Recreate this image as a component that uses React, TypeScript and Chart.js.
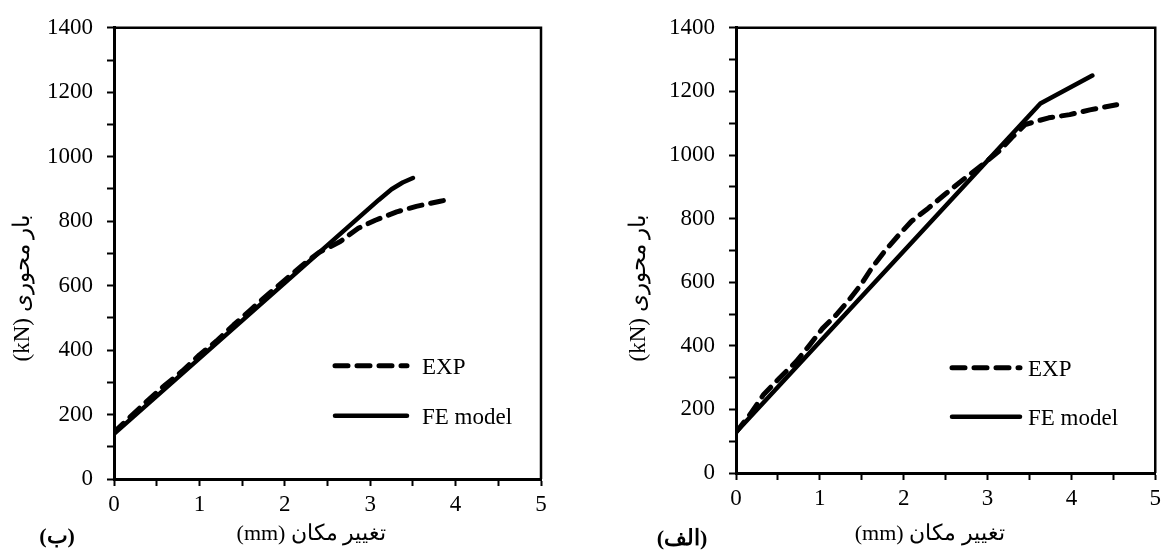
import React, { useEffect, useRef } from "react";
import { Chart, registerables } from "chart.js";

Chart.register(...registerables);

// ---------- data ----------
const seriesLabels = ["EXP", "FE model"];
const xAxisTitle = "تغییر مکان (mm)";
const yAxisTitle = "بار محوری (kN)";
const tagB = "(ب)";
const tagA = "(الف)";

// panel (ب)
const expB_x = [0, 0.2, 0.4, 0.6, 0.8, 1.0, 1.2, 1.4, 1.6, 1.8, 2.0, 2.2, 2.4, 2.65, 2.86, 3.06, 3.31, 3.54, 3.82, 3.88];
const expB_y = [145, 195, 245, 292, 335, 385, 428, 478, 525, 572, 617, 662, 703, 737, 778, 803, 829, 846, 862, 865];
const feB_x = [0, 3.1, 3.25, 3.38, 3.5];
const feB_y = [140, 866, 899, 920, 934];

// panel (الف)
const expA_x = [0, 0.17, 0.33, 0.52, 0.72, 0.88, 1.03, 1.19, 1.35, 1.5, 1.62, 1.78, 1.94, 2.09, 2.29, 2.5, 2.72, 2.94, 3.15, 3.29, 3.45, 3.73, 3.98, 4.22, 4.54];
const expA_y = [128, 185, 247, 299, 351, 403, 454, 496, 545, 596, 645, 700, 748, 791, 832, 878, 925, 970, 1015, 1055, 1096, 1117, 1127, 1142, 1158];
const feA_x = [0, 3.63, 4.25];
const feA_y = [128, 1162, 1250];

const xMin = 0, xMax = 5, xStep = 0.5;
const yMin = 0, yMax = 1400, yStep = 100;

// ---------- styling ----------
const FONT = "'Liberation Serif', 'Times New Roman', 'DejaVu Serif', serif";
const W = 583;
const H = 552;
const DASH = [13, 9];

type Geom = {
  yWidth: number;
  xHeight: number;
  padRight: number;
  legendX1: number;
  legendX2: number;
  legendY1: number;
  legendY2: number;
  legendTextX: number;
  yTitleDx: number;
  tagX: number;
  tagY: number;
};

const geomB: Geom = {
  yWidth: 114, xHeight: 73, padRight: 42,
  legendX1: 221, legendX2: 293, legendY1: 338, legendY2: 388, legendTextX: 308,
  yTitleDx: 91, tagX: 57, tagY: 537,
};
const geomA: Geom = {
  yWidth: 153, xHeight: 79, padRight: 6,
  legendX1: 216, legendX2: 284, legendY1: 340, legendY2: 389, legendTextX: 292,
  yTitleDx: 97, tagX: 99, tagY: 539,
};

function pts(xs: number[], ys: number[]) {
  return xs.map((x, i) => ({ x, y: ys[i] }));
}

function Panel(props: {
  expX: number[]; expY: number[]; feX: number[]; feY: number[];
  tag: string; geom: Geom; left: number;
}) {
  const ref = useRef<HTMLCanvasElement | null>(null);
  useEffect(() => {
    const canvas = ref.current;
    if (!canvas) return;
    const g = props.geom;
    const decor = {
      id: "decor",
      afterDraw(chart: any) {
        const { ctx, chartArea } = chart;
        const { left, right, top, bottom } = chartArea;
        ctx.save();
        // frame top + right
        ctx.strokeStyle = "#000";
        ctx.lineWidth = 2.5;
        ctx.lineCap = "butt";
        ctx.beginPath();
        ctx.moveTo(left, top);
        ctx.lineTo(right, top);
        ctx.lineTo(right, bottom);
        ctx.stroke();

        // legend
        ctx.lineCap = "round";
        ctx.lineWidth = 5;
        ctx.setLineDash(DASH);
        ctx.beginPath();
        ctx.moveTo(left + g.legendX1, top + g.legendY1);
        ctx.lineTo(left + g.legendX2, top + g.legendY1);
        ctx.stroke();
        ctx.setLineDash([]);
        ctx.lineWidth = 4.5;
        ctx.beginPath();
        ctx.moveTo(left + g.legendX1, top + g.legendY2);
        ctx.lineTo(left + g.legendX2, top + g.legendY2);
        ctx.stroke();

        ctx.fillStyle = "#000";
        ctx.font = `23px ${FONT}`;
        ctx.textAlign = "left";
        ctx.textBaseline = "middle";
        ctx.direction = "ltr";
        ctx.fillText(seriesLabels[0], left + g.legendTextX, top + g.legendY1 + 2);
        ctx.fillText(seriesLabels[1], left + g.legendTextX, top + g.legendY2 + 2);

        // x title
        ctx.font = `22px ${FONT}`;
        ctx.direction = "rtl";
        ctx.textAlign = "center";
        ctx.fillText(xAxisTitle, (left + right) / 2 - 16, 534);

        // y title
        ctx.save();
        ctx.translate(left - g.yTitleDx, 288);
        ctx.rotate(-Math.PI / 2);
        ctx.textAlign = "center";
        ctx.font = `23px ${FONT}`;
        ctx.fillText(yAxisTitle, 0, 0);
        ctx.restore();

        // panel tag
        ctx.font = `bold 22px ${FONT}`;
        ctx.textAlign = "center";
        ctx.fillText(props.tag, g.tagX, g.tagY);
        ctx.restore();
      },
    };

    const gridOpts = {
      display: true,
      drawOnChartArea: false,
      drawTicks: true,
      tickLength: 7,
      tickWidth: 2,
      tickColor: "#000",
      color: "#000",
    };
    const chart = new Chart(canvas, {
      type: "line",
      data: {
        datasets: [
          {
            label: seriesLabels[0],
            data: pts(props.expX, props.expY),
            borderColor: "#000",
            backgroundColor: "#000",
            borderWidth: 5,
            borderDash: DASH,
            borderCapStyle: "round",
            borderJoinStyle: "round",
            pointRadius: 0,
            fill: false,
            tension: 0,
          },
          {
            label: seriesLabels[1],
            data: pts(props.feX, props.feY),
            borderColor: "#000",
            backgroundColor: "#000",
            borderWidth: 4.5,
            borderCapStyle: "round",
            borderJoinStyle: "round",
            pointRadius: 0,
            fill: false,
            tension: 0,
          },
        ],
      } as any,
      options: {
        responsive: false,
        animation: false,
        devicePixelRatio: 1,
        layout: { padding: { left: 0, top: 22, right: g.padRight, bottom: 0 } },
        plugins: { legend: { display: false }, tooltip: { enabled: false } },
        scales: {
          x: {
            type: "linear",
            min: xMin,
            max: xMax,
            afterFit: (s: any) => { s.height = g.xHeight; },
            ticks: {
              stepSize: xStep,
              autoSkip: false,
              maxRotation: 0,
              padding: 5,
              color: "#000",
              font: { family: FONT, size: 23 },
              callback: (v: any) => (Number.isInteger(v) ? String(v) : ""),
            },
            grid: gridOpts,
            border: { display: true, color: "#000", width: 3 },
          },
          y: {
            type: "linear",
            min: yMin,
            max: yMax,
            afterFit: (s: any) => { s.width = g.yWidth; },
            ticks: {
              stepSize: yStep,
              autoSkip: false,
              padding: 14,
              color: "#000",
              font: { family: FONT, size: 23 },
              callback: (v: any) => (v % 200 === 0 ? String(v) : ""),
            },
            grid: gridOpts,
            border: { display: true, color: "#000", width: 3 },
          },
        },
      } as any,
      plugins: [decor],
    });
    return () => chart.destroy();
  }, []);
  return (
    <canvas
      ref={ref}
      width={W}
      height={H}
      style={{ position: "absolute", left: props.left, top: 0, width: W, height: H }}
    />
  );
}

export default function App() {
  return (
    <div style={{ position: "absolute", left: 0, top: 0, width: 1166, height: 552, background: "#fff" }}>
      <Panel expX={expB_x} expY={expB_y} feX={feB_x} feY={feB_y} tag={tagB} geom={geomB} left={0} />
      <Panel expX={expA_x} expY={expA_y} feX={feA_x} feY={feA_y} tag={tagA} geom={geomA} left={583} />
    </div>
  );
}
